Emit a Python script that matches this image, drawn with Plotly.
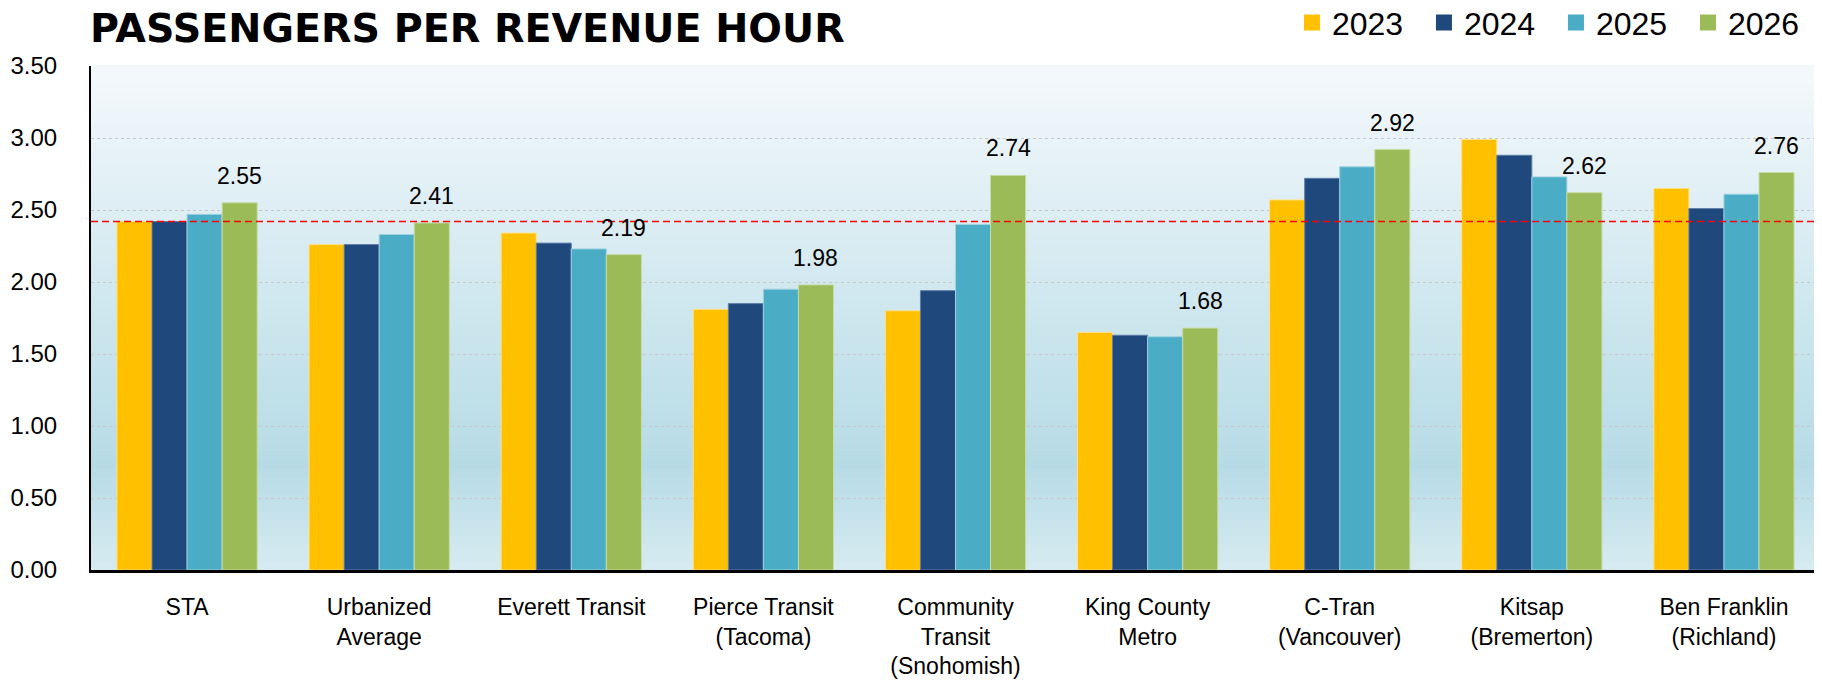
import plotly.graph_objects as go

# --- data
agencies = ["STA", "Urbanized<br>Average", "Everett Transit", "Pierce Transit<br>(Tacoma)",
            "Community<br>Transit<br>(Snohomish)", "King County<br>Metro", "C-Tran<br>(Vancouver)",
            "Kitsap<br>(Bremerton)", "Ben Franklin<br>(Richland)"]
years = ["2023", "2024", "2025", "2026"]
pph_2023 = [2.42, 2.26, 2.34, 1.81, 1.80, 1.65, 2.57, 2.99, 2.65]
pph_2024 = [2.42, 2.26, 2.27, 1.85, 1.94, 1.63, 2.72, 2.88, 2.51]
pph_2025 = [2.47, 2.33, 2.23, 1.95, 2.40, 1.62, 2.80, 2.73, 2.61]
pph_2026 = [2.55, 2.41, 2.19, 1.98, 2.74, 1.68, 2.92, 2.62, 2.76]
sta_level = 2.42
y_ticks = [0, 0.5, 1.0, 1.5, 2.0, 2.5, 3.0, 3.5]

colors = ["#FFC000", "#1F497D", "#4BACC6", "#9BBB59"]
edges = ["#FFE08A", "#5F7FA8", "#9FD3E2", "#C7DBA3"]
series = [pph_2023, pph_2024, pph_2025, pph_2026]

# page body has an 8px margin, so the figure is a bit smaller than the window
W, H = 1814, 674
ML, MR, MT, MB = 83, 2, 58, 112
BARGAP = 0.27

fig = go.Figure()
for i, (yr, vals) in enumerate(zip(years, series)):
    fig.add_trace(go.Bar(x=agencies, y=vals, name=yr, showlegend=False,
                         marker=dict(color=colors[i], line=dict(color=edges[i], width=1))))
# legend proxies, bigger squares than bar icons
for i, yr in enumerate(years):
    fig.add_trace(go.Scatter(x=[None], y=[None], mode="markers", name=yr,
                             marker=dict(symbol="square", size=16, color=colors[i])))

# value labels over the 2026 bars (last bar of each group)
cat_px = (W - ML - MR) / len(agencies)
bar_px = cat_px * (1 - BARGAP) / len(years)
for a, v in zip(agencies, pph_2026):
    fig.add_annotation(x=a, y=v, text="%.2f" % v, showarrow=False,
                       xshift=1.5 * bar_px, yshift=27, yanchor="middle",
                       font=dict(family="Liberation Sans", size=23, color="black"))

# background gradient (light top -> blue -> lighter at the bottom)
def mix(c1, c2, t):
    return "rgb(%d,%d,%d)" % tuple(round(a + (b - a) * t) for a, b in zip(c1, c2))

top, mid, bot = (245, 249, 252), (182, 219, 230), (214, 234, 241)
n = 60
for k in range(n):
    f = k / n  # 0 at bottom
    if f < 0.2:
        c = mix(bot, mid, f / 0.2)
    else:
        c = mix(mid, top, (f - 0.2) / 0.8)
    fig.add_shape(type="rect", xref="x domain", yref="y domain", x0=0, x1=1,
                  y0=f, y1=f + 1.0 / n + 0.002, fillcolor=c, line=dict(width=0), layer="below")

fig.add_shape(type="line", xref="x domain", yref="y", x0=0, x1=1, y0=sta_level, y1=sta_level,
              line=dict(color="#FF0000", width=1.5, dash="7px,4px"))

fig.update_layout(
    width=W, height=H,
    margin=dict(l=ML, r=MR, t=MT, b=MB, autoexpand=False),
    paper_bgcolor="white", plot_bgcolor="white",
    barmode="group", bargap=BARGAP, bargroupgap=0,
    title=dict(text="<b>PASSENGERS PER REVENUE HOUR</b>", x=82 / W, xanchor="left",
               y=1 - 20.5 / H, yanchor="middle",
               font=dict(family="DejaVu Sans", size=39.6, color="black")),
    legend=dict(orientation="h", xanchor="left", x=0.6946, yanchor="middle", y=1.086,
                font=dict(family="Liberation Sans", size=32, color="black"),
                bgcolor="rgba(0,0,0,0)", itemsizing="trace", maxheight=200,
                entrywidth=87, entrywidthmode="pixels"),
    font=dict(family="Liberation Sans", color="black"),
)
fig.update_xaxes(showline=True, linecolor="black", linewidth=3, showgrid=False,
                 automargin=False,
                 tickfont=dict(family="Liberation Sans", size=23, color="black"),
                 ticklabelstandoff=14)
fig.update_yaxes(range=[0, 3.5], tickvals=y_ticks, tickformat=".2f", automargin=False,
                 showline=True, linecolor="black", linewidth=2,
                 showgrid=True, gridcolor="#C8C8C8", griddash="dot", gridwidth=1,
                 zeroline=False, ticklabelstandoff=27,
                 tickfont=dict(family="Liberation Sans", size=24, color="black"))

fig.write_html("out.html")
